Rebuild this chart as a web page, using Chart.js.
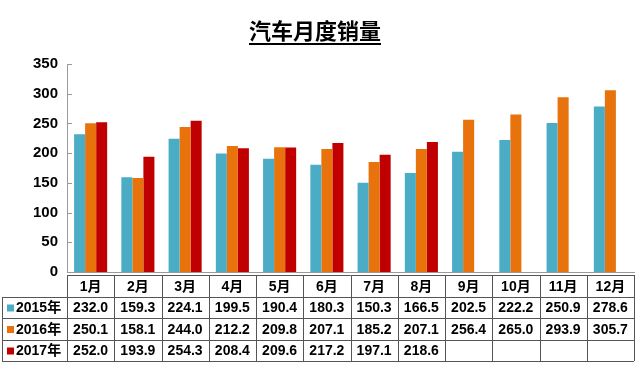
<!DOCTYPE html>
<html>
<head>
<meta charset="utf-8">
<script src="https://cdn.jsdelivr.net/npm/chart.js@4"></script>
<style>
  html, body { margin: 0; padding: 0; background: #fff; }
  #wrap { width: 640px; height: 380px; position: relative; }
</style>
</head>
<body>
<div id="wrap"><canvas id="salesChart" width="640" height="380"></canvas></div>
<script>
// 汽车月度销量（万辆）
const months = ['1月', '2月', '3月', '4月', '5月', '6月', '7月', '8月', '9月', '10月', '11月', '12月'];
const sales2015 = [232.0, 159.3, 224.1, 199.5, 190.4, 180.3, 150.3, 166.5, 202.5, 222.2, 250.9, 278.6];
const sales2016 = [250.1, 158.1, 244.0, 212.2, 209.8, 207.1, 185.2, 207.1, 256.4, 265.0, 293.9, 305.7];
const sales2017 = [252.0, 193.9, 254.3, 208.4, 209.6, 217.2, 197.1, 218.6, null, null, null, null];
const yTicks = [0, 50, 100, 150, 200, 250, 300, 350];

const seriesNames = ['2015年', '2016年', '2017年'];
const seriesColors = ['#4BACC6', '#E8720C', '#C00000'];
const seriesData = [sales2015, sales2016, sales2017];

const FONT = "'Liberation Sans', Arial, 'Noto Sans CJK SC', sans-serif";
const CJK = "'Noto Sans CJK SC', 'Liberation Sans', sans-serif";

// 标题（带下划线）
const titlePlugin = {
    id: 'underlinedTitle',
    afterDraw(chart) {
        const ctx = chart.ctx;
        ctx.save();
        ctx.font = "bold 22px " + CJK;
        ctx.fillStyle = '#000';
        ctx.textAlign = 'center';
        ctx.textBaseline = 'middle';
        const text = '汽车月度销量';
        const cx = 315;
        ctx.fillText(text, cx, 31);
        const w = ctx.measureText(text).width;
        ctx.fillRect(cx - w / 2, 43, w, 2);
        ctx.restore();
    }
};

// y轴内侧刻度线
const innerTicks = {
    id: 'innerTicks',
    afterDraw(chart) {
        const y = chart.scales.y;
        const ctx = chart.ctx;
        ctx.save();
        ctx.strokeStyle = '#999';
        ctx.lineWidth = 1;
        y.ticks.forEach(t => {
            const py = Math.round(y.getPixelForValue(t.value)) + 0.5;
            ctx.beginPath();
            ctx.moveTo(y.right, py);
            ctx.lineTo(y.right + 5, py);
            ctx.stroke();
        });
        ctx.restore();
    }
};

// 数据表
const dataTable = {
    id: 'dataTable',
    afterDraw(chart) {
        const ctx = chart.ctx;
        const x = chart.scales.x;
        const left = chart.chartArea.left;
        const right = chart.chartArea.right;
        const colW = (right - left) / months.length;
        const rows = [275, 297, 318, 340, 361];
        const labelLeft = 2;

        ctx.save();
        ctx.strokeStyle = '#555';
        ctx.lineWidth = 1;
        const line = (x1, y1, x2, y2) => {
            ctx.beginPath();
            ctx.moveTo(x1, y1);
            ctx.lineTo(x2, y2);
            ctx.stroke();
        };
        // 横线
        line(left, rows[0] + 0.5, right, rows[0] + 0.5);
        for (let r = 1; r < rows.length; r++) {
            line(labelLeft, rows[r] + 0.5, right, rows[r] + 0.5);
        }
        // 竖线
        line(labelLeft + 0.5, rows[1], labelLeft + 0.5, rows[4]);
        for (let c = 0; c <= months.length; c++) {
            const px = Math.round(left + c * colW) + 0.5;
            line(px, rows[0], px, rows[4]);
        }

        ctx.fillStyle = '#000';
        ctx.textBaseline = 'middle';
        ctx.textAlign = 'center';
        ctx.font = "bold 14px " + FONT;
        months.forEach((m, i) => {
            ctx.fillText(m, x.getPixelForTick(i), (rows[0] + rows[1]) / 2 + 1);
        });

        seriesData.forEach((vals, s) => {
            const cy = (rows[s + 1] + rows[s + 2]) / 2 + 1;
            ctx.fillStyle = seriesColors[s];
            ctx.fillRect(7, cy - 4, 7, 7);
            ctx.fillStyle = '#000';
            ctx.textAlign = 'left';
            ctx.font = "bold 14px " + FONT;
            ctx.fillText(seriesNames[s], 16, cy);
            ctx.textAlign = 'center';
            vals.forEach((v, i) => {
                if (v === null) return;
                ctx.fillText(v.toFixed(1), x.getPixelForTick(i), cy);
            });
        });
        ctx.restore();
    }
};

const canvas = document.getElementById('salesChart');
new Chart(canvas.getContext('2d'), {
    type: 'bar',
    data: {
        labels: months,
        datasets: seriesNames.map((name, s) => ({
            label: name,
            data: seriesData[s],
            backgroundColor: seriesColors[s],
            borderWidth: 0,
            categoryPercentage: 0.7,
            barPercentage: 1.0
        }))
    },
    options: {
        responsive: false,
        animation: false,
        devicePixelRatio: 1,
        layout: { padding: { top: 64, bottom: 108, left: 0, right: 6 } },
        scales: {
            x: {
                grid: { display: false, drawTicks: false },
                border: { display: true, color: '#999', width: 1 },
                ticks: { display: false }
            },
            y: {
                min: 0,
                max: 350,
                afterFit(scale) { scale.width = 67; },
                afterBuildTicks(scale) { scale.ticks = yTicks.map(v => ({ value: v })); },
                grid: { display: false, drawTicks: false },
                border: { display: true, color: '#999', width: 1 },
                ticks: {
                    padding: 9,
                    color: '#000',
                    font: { family: FONT, size: 15, weight: 'bold' }
                }
            }
        },
        plugins: {
            legend: { display: false },
            tooltip: { enabled: false }
        }
    },
    plugins: [titlePlugin, innerTicks, dataTable]
});
</script>
</body>
</html>
